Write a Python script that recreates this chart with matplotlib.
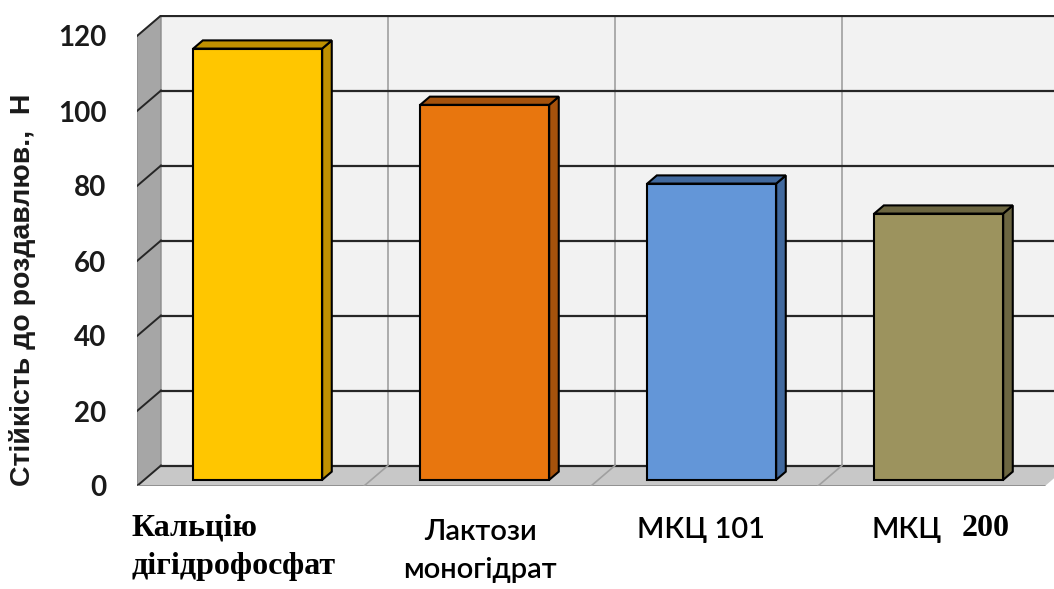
import numpy as np
import matplotlib.pyplot as plt
from matplotlib.patches import Polygon

# data
categories = ["Кальцію\nдігідрофосфат", "Лактози\nмоногідрат", "МКЦ 101", "МКЦ"]
values = [115, 100, 79, 71]
front_colors = ["#FFC600", "#E8760E", "#6396D8", "#9C935E"]
side_colors = ["#BF9000", "#A5520C", "#41699E", "#6C6641"]
yticks = [0, 20, 40, 60, 80, 100, 120]
ylabel = "Стійкість до роздавлюв.,  Н"

W, H = 1054, 589
fig = plt.figure(figsize=(W / 100, H / 100), dpi=100)

# 3d depth offset in data units
DX = 24 / 227
DY = 20.5 / 3.75
ymax = yticks[-1]
n = len(values)

ax = fig.add_axes([137 / W, (H - 486) / H, (W - 137) / W, 471 / H])
ax.set_xlim(-0.5, -0.5 + 917 / 227)
ax.set_ylim(0, 471 / 3.75)
for s in ax.spines.values():
    s.set_visible(False)
ax.patch.set_visible(False)

xr = ax.get_xlim()[1]

# back wall
ax.add_patch(Polygon([(-0.5 + DX, DY), (xr, DY), (xr, ymax + DY), (-0.5 + DX, ymax + DY)],
                     closed=True, facecolor="#F2F2F2", edgecolor="none", zorder=1))
# left wall
ax.add_patch(Polygon([(-0.5, 0), (-0.5 + DX, DY), (-0.5 + DX, ymax + DY), (-0.5, ymax)],
                     closed=True, facecolor="#A6A6A6", edgecolor="#8C8C8C", lw=1, zorder=1))
# floor
ax.add_patch(Polygon([(-0.5, 0), (n - 0.5, 0), (n - 0.5 + DX, DY), (-0.5 + DX, DY)],
                     closed=True, facecolor="#C8C8C8", edgecolor="none", zorder=2))
ax.plot([-0.5, n - 0.5], [0, 0], color="#8C8C8C", lw=2, zorder=3, solid_capstyle="butt")

# vertical separators on back wall and floor
for k in range(n - 1):
    xb = k + 0.5 + DX
    ax.plot([xb, xb], [DY, ymax + DY], color="#A0A0A0", lw=1.2, zorder=2)
    ax.plot([k + 0.5, xb], [0, DY], color="#A0A0A0", lw=1.2, zorder=3)

# gridlines
for v in yticks:
    ax.plot([-0.5 + DX, xr], [v + DY, v + DY], color="#262626", lw=1.6, zorder=2)
    ax.plot([-0.5, -0.5 + DX], [v, v + DY], color="#262626", lw=1.4, zorder=2)

# bars
b0 = 0.3 * DY
d = 0.4
bw = 0.568
xs = np.arange(n) + 0.3 * DX
ax.bar(xs, values, width=bw, bottom=b0, color=front_colors, edgecolor="black", lw=1.5, zorder=5)
for x, v, c in zip(xs, values, side_colors):
    xl, xrr = x - bw / 2, x + bw / 2
    top = v + b0
    ax.add_patch(Polygon([(xrr, b0), (xrr + d * DX, b0 + d * DY), (xrr + d * DX, top + d * DY), (xrr, top)],
                         closed=True, facecolor=c, edgecolor="black", lw=1.5, zorder=4))
    ax.add_patch(Polygon([(xl, top), (xrr, top), (xrr + d * DX, top + d * DY), (xl + d * DX, top + d * DY)],
                         closed=True, facecolor=c, edgecolor="black", lw=1.5, zorder=4))

ax.set_xticks([])
ax.set_yticks(yticks)
ax.tick_params(axis="y", length=0, pad=22)
for lab in ax.get_yticklabels():
    lab.set_fontfamily("Lato")
    lab.set_fontweight("bold")
    lab.set_fontsize(20)
    lab.set_color("#1A1A1A")

fig.text(23 / W, 1 - 290 / H, ylabel, rotation=90, ha="center", va="center",
         fontsize=20.5, fontweight="bold", family="Liberation Sans", color="#1A1A1A")

# category labels
fig.text(131 / W, 1 - 547 / H, categories[0], ha="left", va="center", fontsize=23,
         fontweight="bold", family="Liberation Serif", linespacing=1.45)
fig.text(480 / W, 1 - 551 / H, categories[1], ha="center", va="center", fontsize=21,
         fontweight="semibold", family="Lato", linespacing=1.6)
fig.text(701 / W, 1 - 530 / H, categories[2], ha="center", va="center", fontsize=21,
         fontweight="semibold", family="Lato")
fig.text(872 / W, 1 - 530 / H, categories[3], ha="left", va="center", fontsize=21,
         fontweight="semibold", family="Lato")
fig.text(962 / W, 1 - 528 / H, "200", ha="left", va="center", fontsize=23,
         fontweight="bold", family="Liberation Serif")

fig.savefig("out.png", dpi=100)
